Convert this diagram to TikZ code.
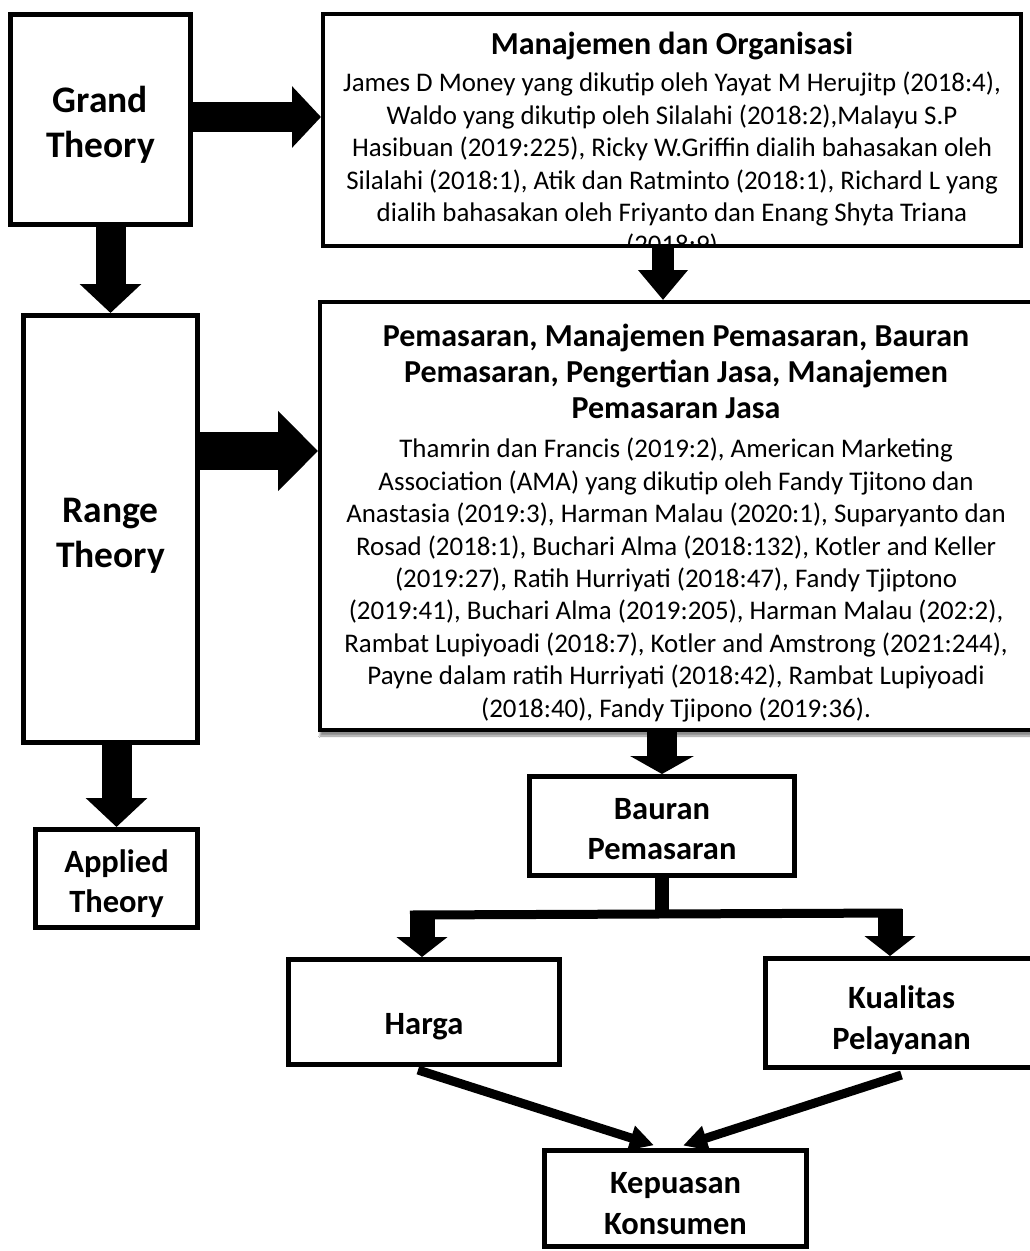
\documentclass[tikz,border=0pt]{standalone}
\usepackage{fontspec}
\setmainfont{Carlito}
\usetikzlibrary{arrows.meta,shadows.blur,positioning}

\newcommand{\bodyfont}{\fontsize{26.9}{32.4}\selectfont}
\newcommand{\titlefont}{\bfseries\fontsize{32}{36}\selectfont}
\newcommand{\headfont}{\bfseries\fontsize{37.5}{45}\selectfont}
\newcommand{\labelfont}{\bfseries\fontsize{32.5}{40.5}\selectfont}

\tikzset{
    box/.style={draw, line width=5pt, fill=white, inner sep=0pt},
    tag/.style={align=center, inner sep=0pt, font=\labelfont},
    textblock/.style={align=center, inner sep=0pt, font=\bodyfont},
    fat/.style={line width=30pt, -{Triangle[length=29pt,width=60pt]}},
    fatwide/.style={line width=38pt, -{Triangle[length=40pt,width=78pt]}},
    fatthin/.style={line width=22pt, -{Triangle[length=30pt,width=48pt]}},
    fatshort/.style={line width=30pt, -{Triangle[length=18pt,width=63pt]}},
    branch/.style={line width=25pt, -{Triangle[length=20pt,width=50pt]}},
    bar/.style={line width=9pt},
    slant/.style={line width=9pt, -{Triangle[length=24pt,width=24pt]}}
}

\begin{document}
\begin{tikzpicture}[x=1pt, y=-1pt]
    \clip (0,0) rectangle (1030,1251);
    \fill[white] (0,0) rectangle (1030,1251);

    \node[box, minimum width=180pt, minimum height=210pt,
        label={[tag, font=\headfont, yshift=-5pt]center:Grand\\Theory}] (grand) at (100.5,119.5) {};
    \node[box, minimum width=174pt, minimum height=427pt,
        label={[tag, font=\headfont, yshift=-7pt]center:Range\\Theory}] (range) at (110.5,529) {};
    \node[box, minimum width=162pt, minimum height=98pt,
        label={[tag, yshift=-5pt]center:Applied\\Theory}] (applied) at (116.5,878.5) {};

    \node[box, line width=4pt, minimum width=698pt, minimum height=232pt] (manaj) at (672,130) {};
    \begin{scope}
        \clip (324,14) rectangle (1020,246);
        \node[textblock, font=\titlefont, anchor=north] (manajtitle) at (672,32) {Manajemen dan Organisasi};
        \node[textblock, anchor=north] (manajtext) at (672,72)
            {James D Money yang dikutip oleh Yayat M Herujitp (2018:4),\\
            Waldo yang dikutip oleh Silalahi (2018:2),Malayu S.P\\
            Hasibuan (2019:225), Ricky W.Griffin dialih bahasakan oleh\\
            Silalahi (2018:1), Atik dan Ratminto (2018:1), Richard L yang\\
            dialih bahasakan oleh Friyanto dan Enang Shyta Triana\\
            (2018:9)};
    \end{scope}

    \node[box, line width=4pt, minimum width=730pt, minimum height=428pt,
        blur shadow={shadow xshift=0pt, shadow yshift=-6pt, shadow blur steps=6, shadow opacity=45}] (pemas) at (685,516) {};
    \node[textblock, font=\titlefont, anchor=north] (pemastitle) at (676,323.5)
        {Pemasaran, Manajemen Pemasaran, Bauran\\
        Pemasaran, Pengertian Jasa, Manajemen\\
        Pemasaran Jasa};
    \node[textblock, anchor=north] (pemastext) at (676,438)
        {Thamrin dan Francis (2019:2), American Marketing\\
        Association (AMA) yang dikutip oleh Fandy Tjitono dan\\
        Anastasia (2019:3), Harman Malau (2020:1), Suparyanto dan\\
        Rosad (2018:1), Buchari Alma (2018:132), Kotler and Keller\\
        (2019:27), Ratih Hurriyati (2018:47), Fandy Tjiptono\\
        (2019:41), Buchari Alma (2019:205), Harman Malau (202:2),\\
        Rambat Lupiyoadi (2018:7), Kotler and Amstrong (2021:244),\\
        Payne dalam ratih Hurriyati (2018:42), Rambat Lupiyoadi\\
        (2018:40), Fandy Tjipono (2019:36).};

    \node[box, minimum width=265pt, minimum height=99pt,
        label={[tag, yshift=-3pt]center:Bauran\\Pemasaran}] (bauran) at (662,826) {};
    \node[box, minimum width=271pt, minimum height=105pt,
        label={[tag, yshift=-15pt]center:Harga}] (harga) at (424,1012) {};
    \node[box, minimum width=272pt, minimum height=109pt,
        label={[tag, yshift=-7pt]center:Kualitas\\Pelayanan}] (kualitas) at (901.5,1013) {};
    \node[box, minimum width=262pt, minimum height=96pt,
        label={[tag, yshift=-5pt]center:Kepuasan\\Konsumen}] (kepuasan) at (675.5,1198.5) {};

    \draw[fat] ([yshift=2.5pt]grand.east) -- ([yshift=2.5pt]grand.east -| manaj.west);
    \draw[fat] (grand.south -| range.north) -- (range.north);
    \draw[fatwide] ([yshift=78pt]range.east) -- ([yshift=78pt]range.east -| pemas.west);
    \draw[fat] (range.south -| applied.north) -- (applied.north);
    \draw[fatthin] ([xshift=-9pt]manaj.south) -- ([xshift=-9pt]manaj.south |- pemas.north);
    \draw[fatshort] (pemas.south -| bauran.north) -- (bauran.north);

    \coordinate (split) at (662,915);
    \coordinate (left) at (422,915);
    \coordinate (right) at (890,913);
    \draw[line width=14pt] (bauran.south) -- (split);
    \draw[bar] ([xshift=-12pt]left) -- ([xshift=12pt]right);
    \draw[branch] ([yshift=4pt]left) -- (left |- harga.north);
    \draw[branch] ([yshift=4pt]right) -- (right |- kualitas.north);

    \draw[slant, shorten >=9pt] ([xshift=-6pt, yshift=-3pt]harga.south) -- ([xshift=-13pt]kepuasan.north);
    \draw[slant, shorten >=8pt] ([yshift=-5pt]kualitas.south) -- (kepuasan.north);
\end{tikzpicture}
\end{document}
